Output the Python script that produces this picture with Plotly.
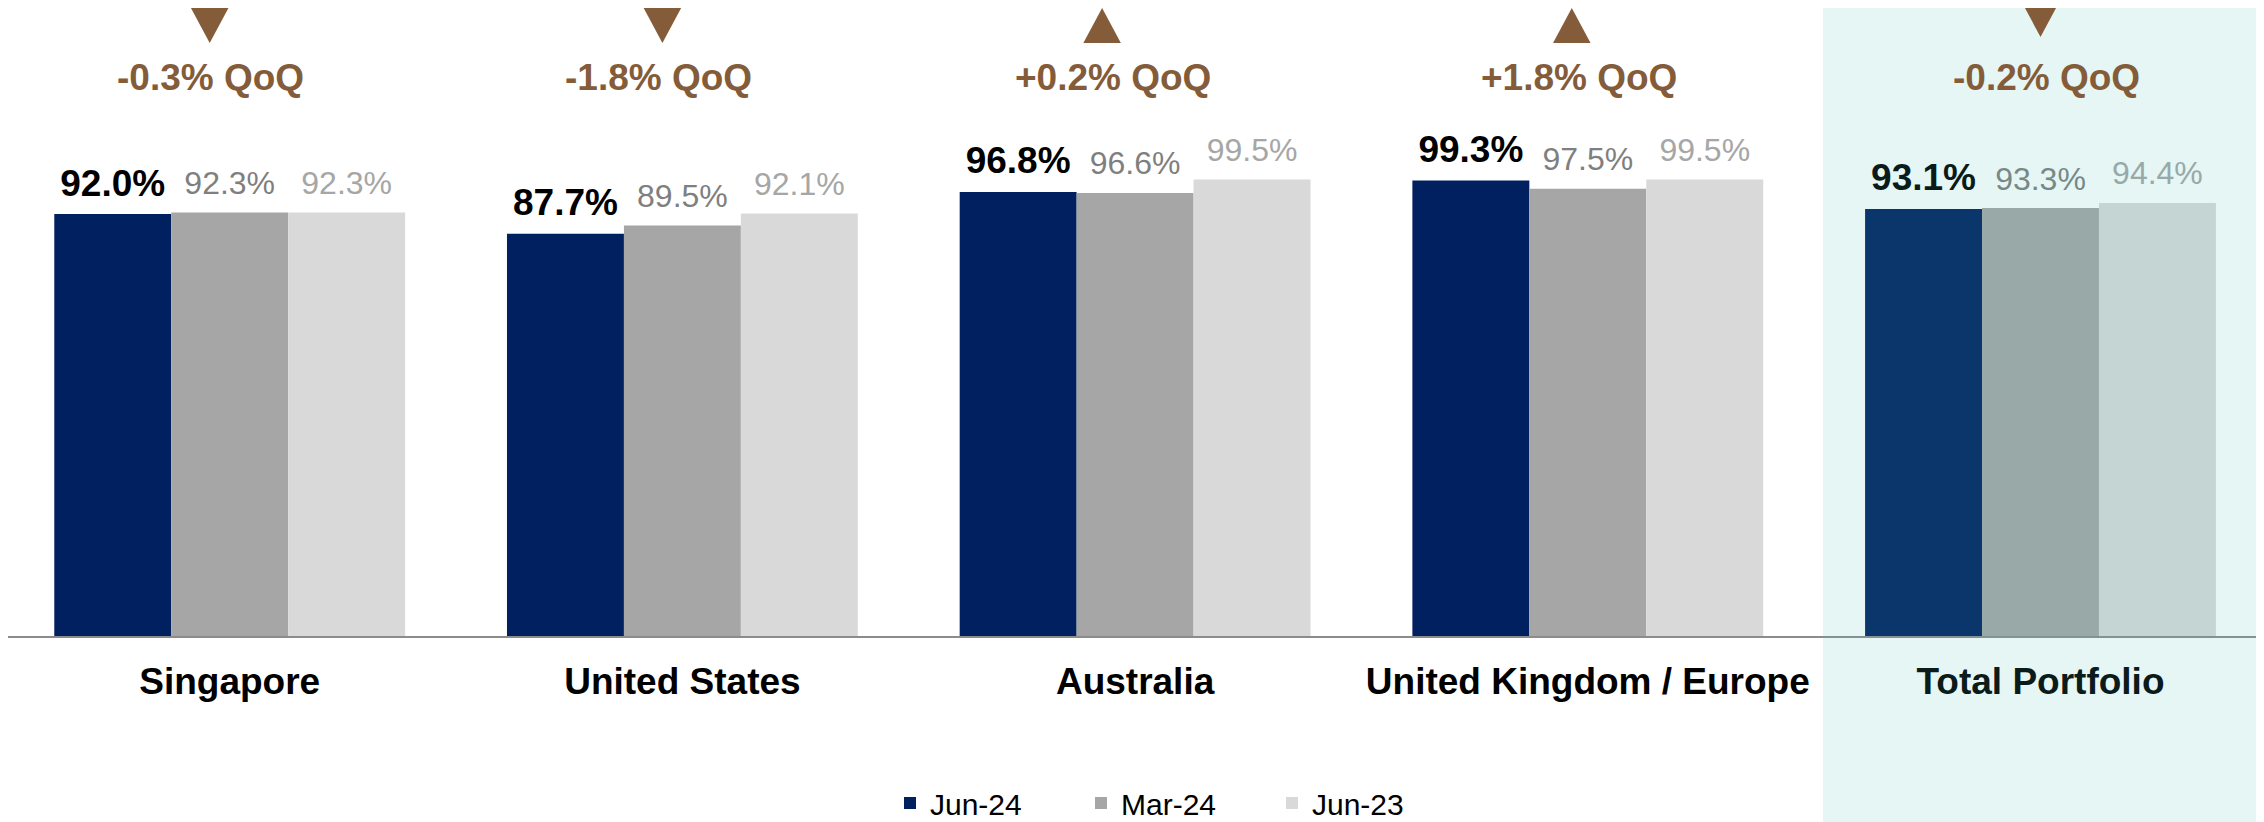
import plotly.graph_objects as go

# ---------------- data ----------------
categories = ["Singapore", "United States", "Australia", "United Kingdom / Europe", "Total Portfolio"]
series_names = ["Jun-24", "Mar-24", "Jun-23"]
jun24 = [92.0, 87.7, 96.8, 99.3, 93.1]
mar24 = [92.3, 89.5, 96.6, 97.5, 93.3]
jun23 = [92.3, 92.1, 99.5, 99.5, 94.4]
qoq = [-0.3, -1.8, 0.2, 1.8, -0.2]

# ---------------- style / layout (pixel targets are page coordinates) ----------------
PAGE_OFF = 8                      # default body margin of the html page
W, H = 2264 - PAGE_OFF, 822 - PAGE_OFF
AXIS_Y = 636                      # page y of the category axis line
PX_PER_CAT = 452.7
FIRST_CENTER = 229.7
PX_PER_PCT = 4.587

M_L, M_R, M_T = 0, 0, 0
plot_w = W - M_L - M_R
plot_h = AXIS_Y - PAGE_OFF - M_T
M_B = H - M_T - plot_h
x0 = -(FIRST_CENTER - PAGE_OFF - M_L) / PX_PER_CAT
X_RANGE = [x0, x0 + plot_w / PX_PER_CAT]
Y_RANGE = [0, plot_h / PX_PER_PCT]
ppx = PX_PER_CAT
ppy = PX_PER_PCT
BARGAP = 0.225
bw = (1 - BARGAP) / 3

FONT = "Liberation Sans, Arial, Helvetica, sans-serif"
bar_colors = ["#002060", "#A6A6A6", "#D9D9D9"]
label_colors = ["#000000", "#7F7F7F", "#A6A6A6"]
label_sizes = [37, 32, 32]
label_weights = ["bold", "normal", "normal"]
BROWN = "#845C3A"
LABEL_GAP_PX = 18.5          # baseline of value label above bar top
tri_dx_px = [-20, -20, -33, -16, 0]
tri_dy_px = [0, 0, 0, 0, -6]
txt_dx_px = [-19, -24, -22, -9, 6]
TRI_W, TRI_TOP, TRI_BOT = 37.5, 8, 43
QOQ_CENTER_PX = 77.9
SHADE_X_PX = 1823
LEGEND_X_PX = 890
LEGEND_Y_PX = 803


def py(page_y):
    return Y_RANGE[1] - (page_y - PAGE_OFF - M_T) / ppy


fig = go.Figure()
series = [jun24, mar24, jun23]
xs = list(range(len(categories)))
for k, (name, vals) in enumerate(zip(series_names, series)):
    fig.add_trace(go.Bar(
        x=xs, y=vals, name=name,
        marker=dict(color=bar_colors[k], line=dict(width=0)),
        hoverinfo="skip",
    ))

# value labels
for k, vals in enumerate(series):
    off = (k - 1) * bw
    fs = label_sizes[k]
    fig.add_trace(go.Scatter(
        x=[i + off for i in xs],
        y=[v + (LABEL_GAP_PX - 0.25 * fs) / ppy for v in vals],
        mode="text",
        text=[f"{v:.1f}%" for v in vals],
        textposition="top center",
        textfont=dict(family=FONT, size=fs, color=label_colors[k], weight=label_weights[k]),
        showlegend=False, hoverinfo="skip", cliponaxis=False,
    ))

shapes = []
# shaded Total Portfolio panel (semi-transparent overlay)
shapes.append(dict(
    type="rect", xref="paper", yref="paper",
    x0=(SHADE_X_PX - PAGE_OFF - M_L) / plot_w, x1=1.02,
    y0=-M_B / plot_h - 0.05, y1=1.05,
    fillcolor="rgba(71,191,184,0.141)", line=dict(width=0), layer="above",
))

annotations = []
for i, q in enumerate(qoq):
    cx = i + tri_dx_px[i] / ppx
    hw = TRI_W / 2 / ppx
    top = py(TRI_TOP + tri_dy_px[i])
    bot = py(TRI_BOT + tri_dy_px[i])
    if q < 0:
        path = f"M {cx-hw},{top} L {cx+hw},{top} L {cx},{bot} Z"
    else:
        path = f"M {cx-hw},{bot} L {cx+hw},{bot} L {cx},{top} Z"
    shapes.append(dict(type="path", xref="x", yref="y", path=path,
                       fillcolor=BROWN, line=dict(width=0), layer="above"))
    annotations.append(dict(
        x=i + txt_dx_px[i] / ppx, y=py(QOQ_CENTER_PX), xref="x", yref="y",
        text=f"{q:+.1f}% QoQ", showarrow=False, xanchor="center", yanchor="middle",
        font=dict(family=FONT, size=37, color=BROWN, weight="bold"),
    ))

fig.update_layout(
    width=W, height=H,
    margin=dict(l=M_L, r=M_R, t=M_T, b=M_B, pad=0, autoexpand=False),
    paper_bgcolor="white", plot_bgcolor="white",
    barmode="group", bargap=BARGAP, bargroupgap=0,
    font=dict(family=FONT, color="#000000"),
    shapes=shapes, annotations=annotations,
    hovermode=False,
    showlegend=True,
    legend=dict(
        orientation="h", x=(LEGEND_X_PX - PAGE_OFF - M_L) / plot_w, xanchor="left",
        y=-(LEGEND_Y_PX - AXIS_Y) / plot_h, yanchor="middle",
        font=dict(family=FONT, size=30, color="#000000"),
        entrywidth=146, entrywidthmode="pixels",
        bgcolor="rgba(0,0,0,0)", borderwidth=0,
    ),
    xaxis=dict(
        range=X_RANGE, tickmode="array", tickvals=xs, ticktext=categories,
        tickfont=dict(family=FONT, size=37, color="#000000", weight="bold"),
        ticklabelstandoff=12,
        showline=True, linecolor="#8C8C8C", linewidth=2,
        ticks="", showgrid=False, zeroline=False, fixedrange=True,
    ),
    yaxis=dict(range=Y_RANGE, visible=False, showgrid=False, zeroline=False, fixedrange=True),
)

fig.write_html("out.html", config={"displayModeBar": False})
